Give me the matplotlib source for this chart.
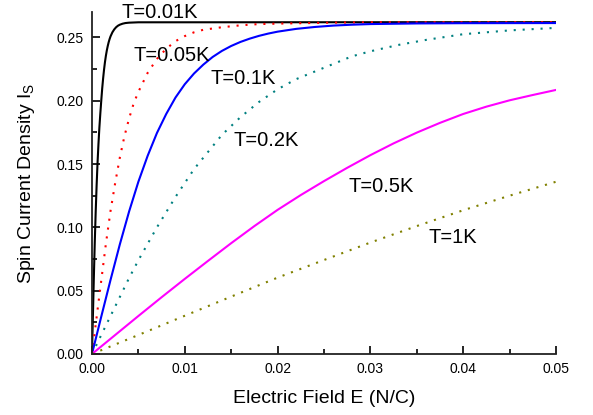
import matplotlib
matplotlib.use("Agg")
import matplotlib.pyplot as plt

plt.rcParams['font.family'] = ['Liberation Sans', 'DejaVu Sans']
plt.rcParams['mathtext.fontset'] = 'custom'
plt.rcParams['mathtext.rm'] = 'Liberation Sans'

# values
E_001 = [0, 0.0001, 0.0002, 0.0003, 0.0004, 0.0005, 0.0006, 0.0007, 0.0008, 0.0009, 0.001,
         0.0011, 0.0012, 0.0013, 0.0014, 0.0015, 0.0016, 0.0017, 0.0018, 0.0019, 0.002,
         0.0022, 0.0024, 0.0026, 0.0028, 0.003, 0.0033, 0.0036, 0.004, 0.005, 0.05]
I_001 = [0, 0.030, 0.060, 0.088, 0.112, 0.133, 0.151, 0.166, 0.179, 0.190, 0.200,
         0.2095, 0.2175, 0.2245, 0.2305, 0.2355, 0.2397, 0.2432, 0.2462, 0.2487, 0.2508,
         0.2540, 0.2563, 0.2580, 0.2592, 0.2600, 0.2608, 0.2613, 0.2616, 0.2619, 0.262]

E_005 = [0, 0.0005, 0.001, 0.0015, 0.002, 0.0025, 0.003, 0.0035, 0.004, 0.0045, 0.005, 0.006,
         0.007, 0.008, 0.009, 0.010, 0.011, 0.012, 0.014, 0.016, 0.018, 0.021, 0.025, 0.03, 0.04, 0.05]
I_005 = [0, 0.029, 0.058, 0.087, 0.113, 0.135, 0.155, 0.172, 0.186, 0.198, 0.207, 0.222,
         0.233, 0.241, 0.247, 0.251, 0.254, 0.256, 0.258, 0.2595, 0.2605, 0.261, 0.2615, 0.262, 0.262, 0.262]

E_01 = [0, 0.001, 0.002, 0.003, 0.004, 0.005, 0.006, 0.007, 0.008, 0.009, 0.010, 0.011, 0.012,
        0.013, 0.014, 0.015, 0.016, 0.017, 0.018, 0.019, 0.020, 0.022, 0.024, 0.026, 0.028,
        0.03, 0.035, 0.04, 0.05]
I_01 = [0, 0.0295, 0.0585, 0.0865, 0.1125, 0.1360, 0.1565, 0.1745, 0.1895, 0.2025, 0.2130,
        0.2215, 0.2285, 0.2345, 0.2393, 0.2432, 0.2464, 0.2490, 0.2512, 0.2530, 0.2545,
        0.2567, 0.2582, 0.2593, 0.2600, 0.2605, 0.2610, 0.2612, 0.2613]

E_02 = [0, 0.001, 0.002, 0.003, 0.004, 0.005, 0.006, 0.007, 0.008, 0.009, 0.010, 0.011, 0.012,
        0.013, 0.014, 0.015, 0.016, 0.017, 0.018, 0.019, 0.020, 0.022, 0.024, 0.026, 0.028,
        0.030, 0.033, 0.036, 0.040, 0.045, 0.050]
I_02 = [0, 0.015, 0.030, 0.045, 0.060, 0.074, 0.087, 0.100, 0.112, 0.124, 0.135, 0.146, 0.155,
        0.164, 0.173, 0.180, 0.187, 0.193, 0.199, 0.204, 0.209, 0.217, 0.223, 0.229, 0.235,
        0.239, 0.244, 0.248, 0.2525, 0.2555, 0.2575]

E_05 = [0, 0.0025, 0.005, 0.0075, 0.01, 0.0125, 0.015, 0.0175, 0.02, 0.0225, 0.025,
        0.0275, 0.03, 0.0325, 0.035, 0.0375, 0.04, 0.0425, 0.045, 0.0475, 0.05]
I_05 = [0, 0.0150, 0.0300, 0.0448, 0.0593, 0.0735, 0.0875, 0.1010, 0.1138, 0.1255, 0.1365,
        0.1470, 0.1570, 0.1663, 0.1748, 0.1825, 0.1895, 0.1953, 0.2003, 0.2045, 0.2085]

E_1 = [0, 0.005, 0.01, 0.015, 0.02, 0.025, 0.03, 0.035, 0.04, 0.045, 0.05]
I_1 = [0, 0.0150, 0.0302, 0.0453, 0.0603, 0.0742, 0.0880, 0.1010, 0.1135, 0.1250, 0.1360]

labels = ['T=0.01K', 'T=0.05K', 'T=0.1K', 'T=0.2K', 'T=0.5K', 'T=1K']
label_E = [0.0073, 0.0086, 0.0163, 0.0188, 0.0312, 0.0389]
label_I = [0.2654, 0.2315, 0.2134, 0.1646, 0.1283, 0.0874]

fig = plt.figure(figsize=(5.93, 4.15), dpi=100)
ax = fig.add_axes([0.1551, 0.147, 0.9376 - 0.1551, 0.971 - 0.147])

dots = (0, (1, 3.3))
ax.plot(E_001, I_001, color='black', lw=1.5)
ax.plot(E_005, I_005, color='#ff0000', lw=1.5, ls=dots)
ax.plot(E_01, I_01, color='#0000ff', lw=1.5)
ax.plot(E_02, I_02, color='#008080', lw=1.5, ls=dots)
ax.plot(E_05, I_05, color='#ff00ff', lw=1.5)
ax.plot(E_1, I_1, color='#808000', lw=1.5, ls=dots)

for t, x, y in zip(labels, label_E, label_I):
    ax.text(x, y, t, fontsize=14.5, ha='center', va='baseline', clip_on=False)

ax.set_xlim(0, 0.05)
ax.set_ylim(0, 0.27)
ax.set_xticks([0, 0.01, 0.02, 0.03, 0.04, 0.05])
ax.set_xticklabels(['0.00', '0.01', '0.02', '0.03', '0.04', '0.05'])
ax.set_xticks([0.005, 0.015, 0.025, 0.035, 0.045], minor=True)
ax.set_yticks([0, 0.05, 0.10, 0.15, 0.20, 0.25])
ax.set_yticklabels(['0.00', '0.05', '0.10', '0.15', '0.20', '0.25'])
ax.set_yticks([0.025, 0.075, 0.125, 0.175, 0.225], minor=True)
ax.tick_params(which='both', direction='in', width=1.2, labelsize=10, pad=6)
ax.tick_params(which='major', length=6)
ax.tick_params(which='minor', length=3.5)

for s in ['top', 'right']:
    ax.spines[s].set_visible(False)
for s in ['left', 'bottom']:
    ax.spines[s].set_linewidth(1.3)
    ax.spines[s].set_color('#222222')

ax.set_xlabel('Electric Field E (N/C)', fontsize=14, labelpad=10)
ax.set_ylabel(r'Spin Current Density I$_\mathregular{S}$', fontsize=14, labelpad=14)

fig.savefig('out.png', dpi=100)
